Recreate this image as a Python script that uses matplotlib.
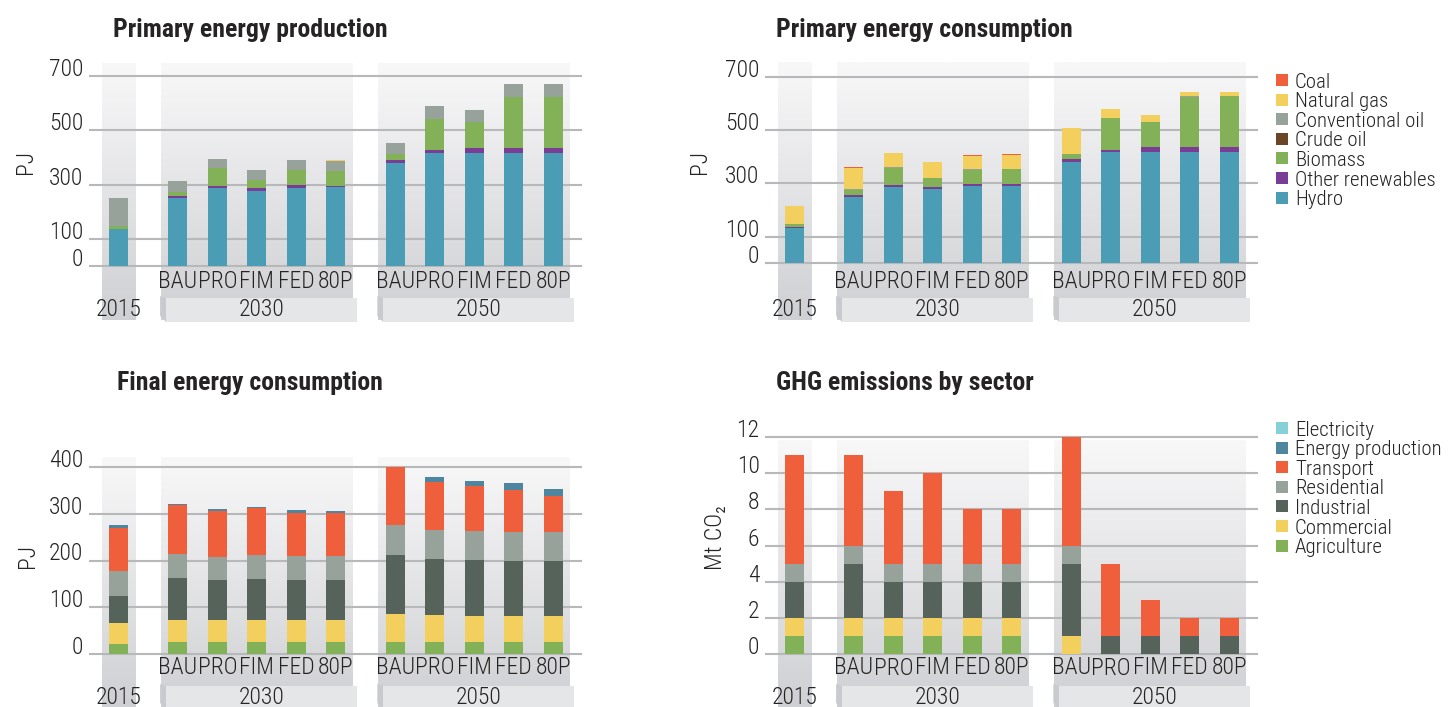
import matplotlib
matplotlib.use("Agg")
import matplotlib.pyplot as plt
import numpy as np
from matplotlib import font_manager as fm
from matplotlib.patches import Rectangle, Polygon
from matplotlib.colors import LinearSegmentedColormap

# Data: one value per column -> 2015, 2030 (BAU PRO FIM FED 80P), 2050 (BAU PRO FIM FED 80P)
scenarios = ["BAU", "PRO", "FIM", "FED", "80P"]
years = ["2015", "2030", "2050"]

fuel_names = ["Hydro", "Other renewables", "Biomass", "Crude oil", "Conventional oil", "Natural gas", "Coal"]
fuel_colors = ["#4a9db5", "#7a3d96", "#82b157", "#6b4525", "#97a29b", "#f3cf5d", "#f05f3b"]

prod_hydro = [135, 250, 287, 278, 287, 290, 380, 417, 415, 417, 417]
prod_other = [2, 7, 6, 8, 10, 6, 9, 9, 21, 18, 18]
prod_biomass = [12, 17, 67, 32, 55, 55, 22, 117, 93, 188, 188]
prod_crude = [0, 0, 0, 0, 0, 0, 0, 0, 0, 0, 0]
prod_conv_oil = [101, 40, 35, 37, 37, 37, 43, 46, 45, 46, 46]
prod_gas = [1, 0, 1, 0, 1, 1, 0, 0, 1, 0, 0]
prod_coal = [0, 0, 0, 0, 0, 0, 0, 0, 0, 0, 0]

cons_hydro = [134, 249, 287, 278, 290, 290, 380, 418, 418, 418, 418]
cons_other = [4, 7, 7, 8, 9, 8, 11, 8, 19, 19, 19]
cons_biomass = [9, 20, 65, 34, 52, 56, 19, 121, 95, 189, 192]
cons_crude = [0, 0, 0, 0, 0, 0, 0, 0, 0, 0, 0]
cons_conv_oil = [2, 2, 2, 0, 3, 0, 0, 0, 0, 4, 0]
cons_gas = [68, 79, 53, 60, 51, 53, 98, 33, 24, 14, 14]
cons_coal = [0, 4, 0, 0, 2, 2, 0, 0, 2, 0, 0]

sector_names = ["Agriculture", "Commercial", "Industrial", "Residential", "Transport", "Energy production", "Electricity"]
sector_colors = ["#82b157", "#f3cf5d", "#55635b", "#97a29b", "#f05f3b", "#4e86a0", "#86d1d7"]

fin_agri = [21, 26, 26, 26, 26, 26, 26, 26, 26, 26, 26]
fin_comm = [45, 47, 47, 47, 47, 47, 60, 58, 56, 56, 56]
fin_ind = [58, 90, 86, 88, 86, 86, 126, 120, 120, 118, 118]
fin_res = [53, 51, 49, 51, 51, 51, 64, 62, 61, 60, 60]
fin_trans = [93, 104, 98, 101, 91, 91, 123, 101, 96, 90, 79]
fin_energy = [6, 3, 4, 1.5, 6, 4, 1, 11, 11, 15, 13]
fin_elec = [0, 0, 0, 0, 0, 0, 0, 0, 0, 0, 0]

ghg_agri = [1, 1, 1, 1, 1, 1, 0, 0, 0, 0, 0]
ghg_comm = [1, 1, 1, 1, 1, 1, 1, 0, 0, 0, 0]
ghg_ind = [2, 3, 2, 2, 2, 2, 4, 1, 1, 1, 1]
ghg_res = [1, 1, 1, 1, 1, 1, 1, 0, 0, 0, 0]
ghg_trans = [6, 5, 4, 5, 3, 3, 6, 4, 2, 1, 1]
ghg_energy = [0, 0, 0, 0, 0, 0, 0, 0, 0, 0, 0]
ghg_elec = [0, 0, 0, 0, 0, 0, 0, 0, 0, 0, 0]

# Font: prefer a condensed face like the original
names = {f.name for f in fm.fontManager.ttflist}
font = next((n for n in ["Roboto Condensed", "Liberation Sans Narrow", "Open Sans Condensed", "Roboto"] if n in names), "DejaVu Sans")
plt.rcParams["font.family"] = [font, "DejaVu Sans"]
plt.rcParams["font.weight"] = "light"
TXT = "#262324"

W, H = 1451, 707
fig = plt.figure(figsize=(W / 100, H / 100), dpi=100)

# x positions: 2015, gap, five 2030 scenarios, gap, five 2050 scenarios
x = np.array([0] + list(np.arange(5) + 1.5) + list(np.arange(5) + 7.0))
XMIN, XMAX = -0.75, 11.74
STEP = 39.5  # pixels per x unit
grad = LinearSegmentedColormap.from_list("g", ["#f8f8f9", "#cfd0d3"])


def panel(left, top, bottom, y0, unit, ticks, series, colors, col_top, lab_y, box_top, year_y):
    ax = fig.add_axes([left / W, 1 - bottom / H, (XMAX - XMIN) * STEP / W, (bottom - top) / H])
    pv = lambda p: (y0 - p) / unit

    # shaded group columns
    g = np.linspace(0, 1, 256).reshape(-1, 1)
    for a, b in [(x[0], x[0]), (x[1], x[5]), (x[6], x[10])]:
        ax.imshow(g, extent=(a - 0.43, b + 0.43, pv(bottom), pv(col_top)), aspect="auto",
                  cmap=grad, zorder=0)

    ax.hlines(ticks, XMIN, XMAX, colors="#b7b8ba", lw=1.5, zorder=1)

    bot = np.zeros(len(x))
    for vals, c in zip(series, colors):
        vals = np.array(vals, dtype=float)
        ax.bar(x, vals, 0.48, bottom=bot, color=c, linewidth=0, zorder=3)
        bot += vals

    for xi, s in zip(x[1:], scenarios * 2):
        ax.text(xi, pv(lab_y), s, ha="center", va="center", fontsize=17, color=TXT, zorder=4)

    # year boxes with a small bevel on the left
    ax.text(x[0], pv(year_y), years[0], ha="center", va="center", fontsize=17, color=TXT, zorder=4)
    for (i0, i1), yr in [((1, 5), years[1]), ((6, 10), years[2])]:
        fl, fr = x[i0] - 0.30, x[i1] + 0.54
        bl = x[i0] - 0.45
        yb, yt = pv(bottom + 2), pv(box_top)
        dy = 6 / unit
        ax.add_patch(Polygon([(bl, yt + 2 / unit), (fl, yt), (fl, yb), (bl, yb + dy)],
                             closed=True, fc="#c9cacd", ec="none", zorder=2, clip_on=False))
        ax.add_patch(Rectangle((fl, yb), fr - fl, yt - yb, fc="#e5e6e8", ec="none", zorder=2, clip_on=False))
        ax.text((fl + fr) / 2, pv(year_y), yr, ha="center", va="center", fontsize=17, color=TXT, zorder=4)

    ax.set_xlim(XMIN, XMAX)
    ax.set_ylim(pv(bottom), pv(top))
    ax.set_yticks(ticks)
    ax.set_yticklabels([str(t) for t in ticks])
    ax.tick_params(axis="y", length=0, pad=4, labelsize=17, labelcolor=TXT)
    for lbl in ax.get_yticklabels():
        lbl.set_va("baseline")
    ax.set_xticks([])
    for sp in ax.spines.values():
        sp.set_visible(False)
    ax.patch.set_alpha(0)
    return ax


prod = [prod_hydro, prod_other, prod_biomass, prod_crude, prod_conv_oil, prod_gas, prod_coal]
cons = [cons_hydro, cons_other, cons_biomass, cons_crude, cons_conv_oil, cons_gas, cons_coal]
fin = [fin_agri, fin_comm, fin_ind, fin_res, fin_trans, fin_energy, fin_elec]
ghg = [ghg_agri, ghg_comm, ghg_ind, ghg_res, ghg_trans, ghg_energy, ghg_elec]

panel(89, 55, 320, 266, 190 / 700, [0, 100, 300, 500, 700], prod, fuel_colors, 63, 281, 298, 309)
panel(765, 55, 320, 263.3, 186.3 / 700, [0, 100, 300, 500, 700], cons, fuel_colors, 63, 281, 298, 309)
panel(89, 450, 707, 654, 187 / 400, [0, 100, 200, 300, 400], fin, sector_colors, 458, 667, 686, 697)
panel(765, 430, 707, 654.3, 217.3 / 12, [0, 2, 4, 6, 8, 10, 12], ghg, sector_colors, 440, 668, 686, 697)

# titles and axis labels
for tx, ty, t in [(113, 37, "Primary energy production"), (776, 37, "Primary energy consumption"),
                  (117, 390, "Final energy consumption"), (776, 390, "GHG emissions by sector")]:
    fig.text(tx / W, 1 - ty / H, t, fontsize=18.5, fontweight="bold", color=TXT, va="baseline")

for tx, ty, t in [(25, 162, "PJ"), (699, 162, "PJ"), (27, 556, "PJ"), (716, 538, "Mt CO₂")]:
    fig.text(tx / W, 1 - ty / H, t, fontsize=17, rotation=90, ha="center", va="center", color=TXT)


# legends (drawn top-down in reverse stacking order)
def legend(names_, colors_, y_first, spacing):
    for k, (n, c) in enumerate(zip(names_[::-1], colors_[::-1])):
        yc = y_first + k * spacing
        fig.add_artist(Rectangle((1276 / W, 1 - (yc + 6) / H), 12 / W, 12 / H, fc=c, ec="none",
                                 transform=fig.transFigure))
        fig.text(1295 / W, 1 - yc / H, n, fontsize=15, color=TXT, va="center_baseline")


legend(fuel_names, fuel_colors, 80, 19.6)
legend(sector_names, sector_colors, 428, 19.6)

fig.savefig("out.png", dpi=100, facecolor="white")
